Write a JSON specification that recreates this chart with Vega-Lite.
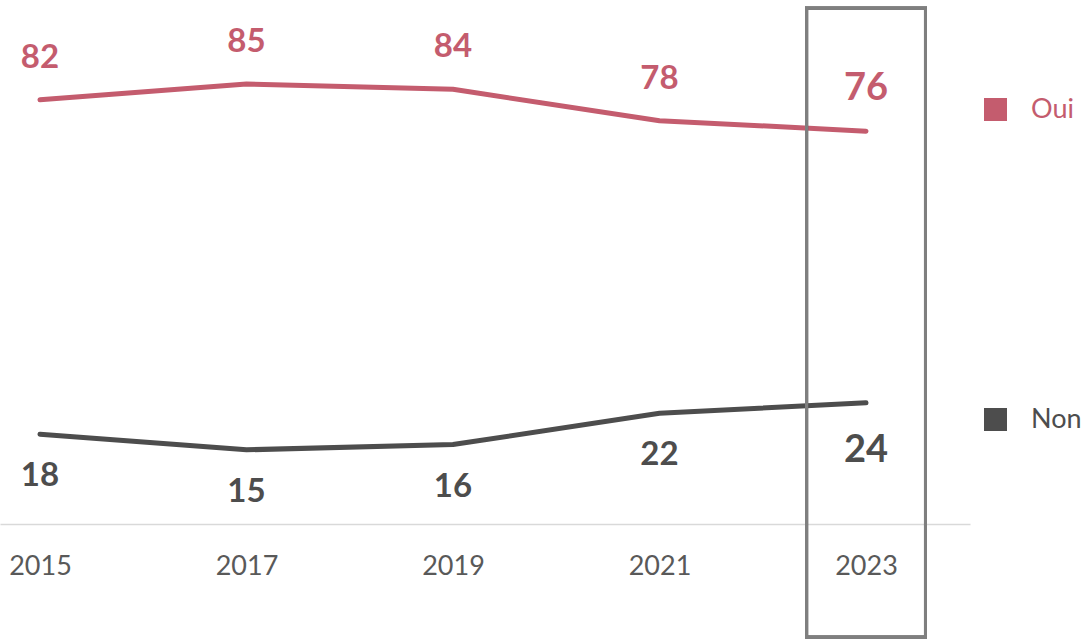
{
  "$schema": "https://vega.github.io/schema/vega-lite/v6.json",
  "width": 970,
  "height": 524,
  "autosize": {"type": "none"},
  "padding": {"left": 0, "top": 0, "right": 114, "bottom": 116},
  "background": "white",
  "config": {"view": {"stroke": null}, "font": "Lato"},
  "data": {"values": [
    {"year": 2015, "serie": "Oui", "value": 82},
    {"year": 2017, "serie": "Oui", "value": 85},
    {"year": 2019, "serie": "Oui", "value": 84},
    {"year": 2021, "serie": "Oui", "value": 78},
    {"year": 2023, "serie": "Oui", "value": 76},
    {"year": 2015, "serie": "Non", "value": 18},
    {"year": 2017, "serie": "Non", "value": 15},
    {"year": 2019, "serie": "Non", "value": 16},
    {"year": 2021, "serie": "Non", "value": 22},
    {"year": 2023, "serie": "Non", "value": 24}
  ]},
  "encoding": {
    "x": {"field": "year", "type": "quantitative",
      "scale": {"domain": [2014.613, 2024.007], "nice": false, "zero": false},
      "axis": {"values": [2015, 2017, 2019, 2021, 2023], "format": "d", "title": null,
        "grid": false, "ticks": false, "domainColor": "#d9d9d9", "domainWidth": 1.5,
        "labelFontSize": 27, "labelColor": "#595959", "labelBaseline": "middle",
        "labelPadding": 42, "labelFont": "Lato"}},
    "y": {"field": "value", "type": "quantitative",
      "scale": {"domain": [0.8, 101.1], "nice": false, "zero": false}, "axis": null}
  },
  "layer": [
    {
      "mark": {"type": "line", "strokeWidth": 5, "strokeCap": "round", "strokeJoin": "round"},
      "encoding": {
        "color": {"field": "serie", "type": "nominal",
          "scale": {"domain": ["Oui", "Non"], "range": ["#c45c6e", "#4d4d4d"]},
          "legend": {"title": null, "orient": "none", "legendX": 982, "legendY": 96,
            "direction": "vertical", "symbolType": "square", "symbolSize": 529,
            "symbolStrokeWidth": 0, "labelFontSize": 27, "labelFont": "Lato",
            "labelOffset": 22, "rowPadding": 282,
            "encode": {
              "symbols": {"update": {"fill": {"scale": "color", "field": "value"}, "opacity": {"value": 1}}},
              "labels": {"update": {"fill": {"scale": "color", "field": "value"}}}
            }}}
      }
    },
    {
      "transform": [{"filter": "datum.serie === 'Oui'"}],
      "mark": {"type": "text", "fontWeight": "bold", "baseline": "middle", "dy": -42, "color": "#c45c6e"},
      "encoding": {
        "text": {"field": "value", "type": "quantitative"},
        "size": {"condition": {"test": "datum.year === 2023", "value": 38}, "value": 33}
      }
    },
    {
      "transform": [{"filter": "datum.serie === 'Non' && datum.year !== 2023"}],
      "mark": {"type": "text", "fontWeight": "bold", "baseline": "middle", "dy": 42, "color": "#4d4d4d", "fontSize": 33},
      "encoding": {
        "text": {"field": "value", "type": "quantitative"}
      }
    },
    {
      "transform": [{"filter": "datum.serie === 'Non' && datum.year === 2023"}],
      "mark": {"type": "text", "fontWeight": "bold", "baseline": "middle", "dy": 48, "color": "#4d4d4d", "fontSize": 38},
      "encoding": {
        "text": {"field": "value", "type": "quantitative"}
      }
    },
    {
      "mark": {"type": "rect", "fill": null, "fillOpacity": 0, "stroke": "#7f7f7f", "strokeWidth": 3},
      "encoding": {
        "x": {"datum": 2022.424, "type": "quantitative"},
        "x2": {"datum": 2023.576},
        "y": {"datum": 99.5, "type": "quantitative"},
        "y2": {"datum": -20.9}
      }
    }
  ]
}
